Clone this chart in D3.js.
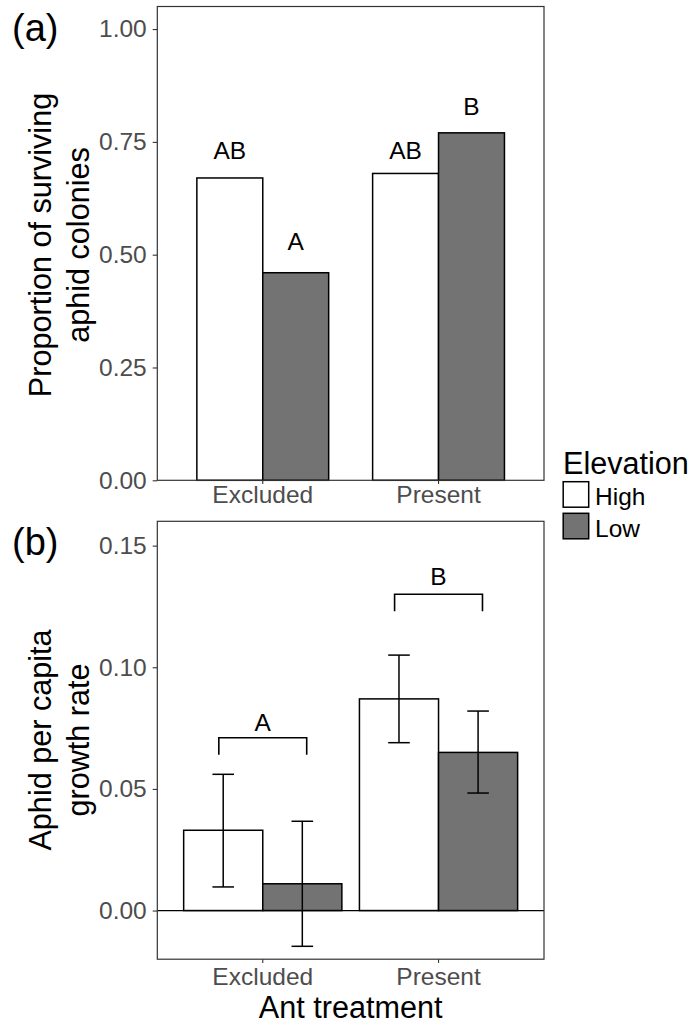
<!DOCTYPE html>
<html>
<head>
<meta charset="utf-8">
<script src="https://cdn.jsdelivr.net/npm/d3@7"></script>
<style>
  html, body { margin: 0; padding: 0; background: #fff; }
  svg { display: block; font-family: "Liberation Sans", Arial, Helvetica, sans-serif; }
</style>
</head>
<body>
<svg id="fig" width="694" height="1023"></svg>
<script>
// Ant treatment groups and aphid source elevations
const treatments = ["Excluded", "Present"];
const elevations = ["High", "Low"];

// (a) proportion of surviving aphid colonies
const survivalHigh = [0.67, 0.68];
const survivalLow = [0.46, 0.77];
const survivalLetters = [["AB", "A"], ["AB", "B"]];
const survivalLetterY = [[0.712, 0.511], [0.712, 0.810]];
const survivalTicks = [0, 0.25, 0.5, 0.75, 1.0];

// (b) aphid per capita growth rate, mean with error bar limits
const growthHigh = [0.033, 0.087];
const growthLow = [0.011, 0.065];
const growthHighLower = [0.0097, 0.069];
const growthHighUpper = [0.056, 0.105];
const growthLowLower = [-0.0147, 0.0483];
const growthLowUpper = [0.0367, 0.082];
const growthTicks = [0, 0.05, 0.10, 0.15];
const growthLetters = ["A", "B"];
const bracketY = [0.071, 0.130];
const bracketDrop = 0.007;
const bracketHalfWidth = 0.25;   // in units of one treatment band
const bracketLetterY = [0.0738, 0.1338];

const fills = { High: "#ffffff", Low: "#737373" };

const svg = d3.select("#fig");
const left = 157.3, right = 544;
const tickFont = 24.5, titleFont = 30.6;

const x = d3.scaleBand().domain(treatments).range([left, right])
  .paddingInner(0).paddingOuter(0.1);
const step = x.bandwidth();
const center = g => x(g) + step / 2;

function styleAxis(g) {
  g.select(".domain").remove();
  g.selectAll(".tick line").attr("stroke", "#333333").attr("stroke-width", 1.1);
  g.selectAll(".tick text").attr("fill", "#4d4d4d")
    .style("font-size", tickFont + "px").style("font-family", "inherit");
}

function panelFrame(top, bottom) {
  svg.append("rect").attr("x", left).attr("y", top)
    .attr("width", right - left).attr("height", bottom - top)
    .attr("fill", "none").attr("stroke", "#333333").attr("stroke-width", 1.2);
}

function yTitle(lines, cy) {
  const t = svg.append("text")
    .attr("transform", `translate(0,${cy}) rotate(-90)`)
    .attr("text-anchor", "middle").attr("fill", "#000")
    .style("font-size", titleFont + "px");
  t.append("tspan").attr("x", 0).attr("y", 50.5).text(lines[0]);
  t.append("tspan").attr("x", 0).attr("y", 89).text(lines[1]);
}

// ---------- panel (a) ----------
const aTop = 6.5, aBottom = 480.3;
const ya = d3.scaleLinear().domain([0, 1.05]).range([aBottom, aTop]);
const dodgeA = d3.scaleBand().domain(elevations).range([-0.375 * step, 0.375 * step]);

const survivalRows = treatments.flatMap((t, i) => [
  { t, e: "High", v: survivalHigh[i], lab: survivalLetters[i][0], ly: survivalLetterY[i][0] },
  { t, e: "Low", v: survivalLow[i], lab: survivalLetters[i][1], ly: survivalLetterY[i][1] }
]);

svg.append("g").attr("transform", `translate(${left},0)`)
  .call(d3.axisLeft(ya).tickValues(survivalTicks).tickFormat(d3.format(".2f"))
    .tickSize(4.6).tickPadding(6))
  .call(styleAxis);

svg.append("g").attr("transform", `translate(0,${aBottom})`)
  .call(d3.axisBottom(x).tickSize(3.7).tickPadding(2))
  .call(styleAxis);

svg.append("g").selectAll("rect").data(survivalRows).join("rect")
  .attr("x", d => center(d.t) + dodgeA(d.e))
  .attr("width", dodgeA.bandwidth())
  .attr("y", d => ya(d.v))
  .attr("height", d => ya(0) - ya(d.v))
  .attr("fill", d => fills[d.e]).attr("stroke", "#000").attr("stroke-width", 1.5);

svg.append("g").selectAll("text").data(survivalRows).join("text")
  .attr("x", d => center(d.t) + dodgeA(d.e) + dodgeA.bandwidth() / 2)
  .attr("y", d => ya(d.ly))
  .attr("text-anchor", "middle").style("font-size", tickFont + "px").attr("fill", "#000")
  .text(d => d.lab);

panelFrame(aTop, aBottom);
yTitle(["Proportion of surviving", "aphid colonies"], 245);

svg.append("text").attr("x", 12).attr("y", 41).style("font-size", "38px").text("(a)");

// ---------- panel (b) ----------
const bTop = 521.3, bBottom = 959.2;
const yb = d3.scaleLinear().domain([-0.02, 0.16]).range([bBottom, bTop]);
const dodgeB = d3.scaleBand().domain(elevations).range([-0.45 * step, 0.45 * step]);

const growthRows = treatments.flatMap((t, i) => [
  { t, e: "High", v: growthHigh[i], lo: growthHighLower[i], hi: growthHighUpper[i] },
  { t, e: "Low", v: growthLow[i], lo: growthLowLower[i], hi: growthLowUpper[i] }
]);

svg.append("g").attr("transform", `translate(${left},0)`)
  .call(d3.axisLeft(yb).tickValues(growthTicks).tickFormat(d3.format(".2f"))
    .tickSize(4.6).tickPadding(6))
  .call(styleAxis);

svg.append("g").attr("transform", `translate(0,${bBottom})`)
  .call(d3.axisBottom(x).tickSize(3.7).tickPadding(4.5))
  .call(styleAxis);

svg.append("g").selectAll("rect").data(growthRows).join("rect")
  .attr("x", d => center(d.t) + dodgeB(d.e))
  .attr("width", dodgeB.bandwidth())
  .attr("y", d => yb(Math.max(d.v, 0)))
  .attr("height", d => Math.abs(yb(0) - yb(d.v)))
  .attr("fill", d => fills[d.e]).attr("stroke", "#000").attr("stroke-width", 1.5);

// zero reference line
svg.append("line").attr("x1", left).attr("x2", right)
  .attr("y1", yb(0)).attr("y2", yb(0)).attr("stroke", "#000").attr("stroke-width", 1.3);

// error bars
const capHalf = 10.8;
const eb = svg.append("g").attr("stroke", "#000").attr("stroke-width", 1.5).attr("fill", "none");
growthRows.forEach(d => {
  const cx = center(d.t) + dodgeB(d.e) + dodgeB.bandwidth() / 2;
  eb.append("line").attr("x1", cx).attr("x2", cx).attr("y1", yb(d.lo)).attr("y2", yb(d.hi));
  eb.append("line").attr("x1", cx - capHalf).attr("x2", cx + capHalf).attr("y1", yb(d.lo)).attr("y2", yb(d.lo));
  eb.append("line").attr("x1", cx - capHalf).attr("x2", cx + capHalf).attr("y1", yb(d.hi)).attr("y2", yb(d.hi));
});

// significance brackets across elevations within each treatment
treatments.forEach((t, i) => {
  const x1 = center(t) - bracketHalfWidth * step;
  const x2 = center(t) + bracketHalfWidth * step;
  const yTop = yb(bracketY[i]), yEnd = yb(bracketY[i] - bracketDrop);
  svg.append("path")
    .attr("d", `M${x1},${yEnd}V${yTop}H${x2}V${yEnd}`)
    .attr("fill", "none").attr("stroke", "#000").attr("stroke-width", 1.6);
  svg.append("text").attr("x", center(t)).attr("y", yb(bracketLetterY[i]))
    .attr("text-anchor", "middle").style("font-size", tickFont + "px").text(growthLetters[i]);
});

panelFrame(bTop, bBottom);
yTitle(["Aphid per capita", "growth rate"], 740);

svg.append("text").attr("x", 12).attr("y", 555).style("font-size", "38px").text("(b)");

svg.append("text").attr("x", (left + right) / 2).attr("y", 1018.3)
  .attr("text-anchor", "middle").style("font-size", titleFont + "px").text("Ant treatment");

// ---------- legend ----------
const legend = svg.append("g");
legend.append("text").attr("x", 563).attr("y", 474.3)
  .style("font-size", titleFont + "px").text("Elevation");
const keyY = [481.7, 513.3];
elevations.forEach((e, i) => {
  legend.append("rect").attr("x", 563.2).attr("y", keyY[i]).attr("width", 25.5).attr("height", 25.5)
    .attr("fill", fills[e]).attr("stroke", "#000").attr("stroke-width", 1.5);
  legend.append("text").attr("x", 595).attr("y", keyY[i] + 23.5)
    .style("font-size", tickFont + "px").text(e);
});
</script>
</body>
</html>
